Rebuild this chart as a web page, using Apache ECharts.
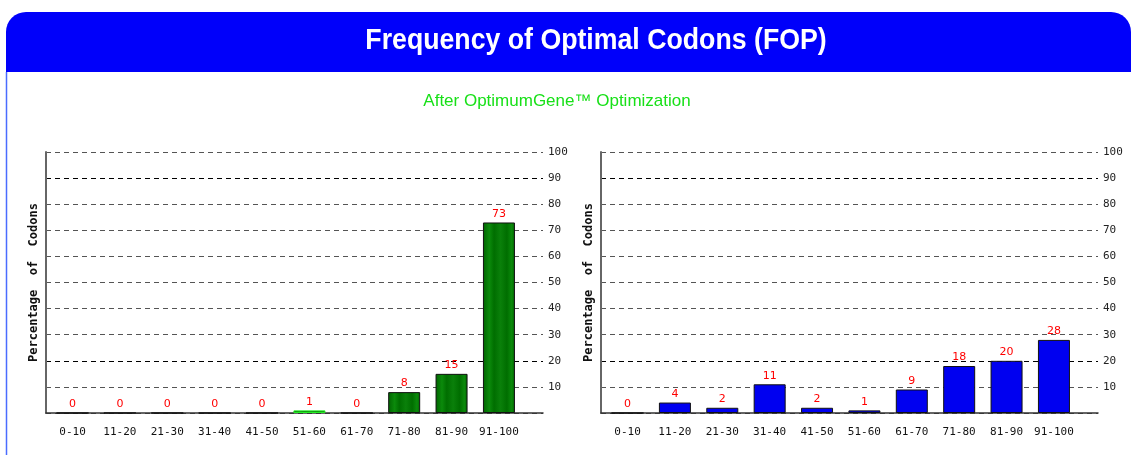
<!DOCTYPE html>
<html>
<head>
<meta charset="utf-8">
<script src="https://cdn.jsdelivr.net/npm/echarts@6/dist/echarts.min.js"></script>
<style>
  html, body { margin: 0; padding: 0; background: #fff; }
  #chart { width: 1131px; height: 455px; }
</style>
</head>
<body>
<div id="chart"></div>
<script>
// codon adaptation bins (x axis)
const categories = ['0-10', '11-20', '21-30', '31-40', '41-50', '51-60', '61-70', '71-80', '81-90', '91-100'];
// percentage of codons, left panel (green) and right panel (blue)
const optimizedPct = [0, 0, 0, 0, 0, 1, 0, 8, 15, 73];
const originalPct = [0, 4, 2, 11, 2, 1, 9, 18, 20, 28];

const MONO = 'DejaVu Sans Mono';
const GRID_LEFTS = [46, 601];

// dashed grid lines, 20 and 90 come out darker in the original
const SPLIT_COLORS = ['#444', '#555', '#000', '#555', '#555', '#555', '#555', '#555', '#555', '#000', '#555'];

const GREEN = {
  type: 'linear', x: 0, y: 0, x2: 1, y2: 0,
  colorStops: [
    { offset: 0, color: '#006400' },
    { offset: 0.2, color: '#0b8a0b' },
    { offset: 0.35, color: '#006e00' },
    { offset: 0.55, color: '#0a800a' },
    { offset: 0.75, color: '#006e00' },
    { offset: 0.9, color: '#0b8a0b' },
    { offset: 1, color: '#006400' }
  ]
};

function xAxisFor(idx) {
  return {
    gridIndex: idx,
    type: 'value',
    min: -0.56,
    max: 9.93,
    axisLine: { show: true, onZero: false, lineStyle: { color: '#333', width: 1.5 } },
    axisTick: { show: false },
    splitLine: { show: false },
    axisLabel: {
      customValues: categories.map((c, i) => i),
      formatter: v => categories[v],
      margin: 14,
      color: '#111',
      fontFamily: MONO,
      fontSize: 11
    }
  };
}

function yAxesFor(idx) {
  return [{
    gridIndex: idx,
    type: 'value',
    position: 'right',
    min: 0,
    max: 100,
    interval: 10,
    axisLine: { show: false },
    axisTick: { show: false },
    axisLabel: {
      formatter: v => (v === 0 ? '' : v),
      margin: 5,
      color: '#222',
      fontFamily: MONO,
      fontSize: 11
    },
    splitLine: { show: true, lineStyle: { type: [5, 4], color: SPLIT_COLORS, width: 1.2 } }
  }, {
    gridIndex: idx,
    type: 'value',
    position: 'left',
    min: 0,
    max: 100,
    interval: 10,
    name: 'Percentage  of  Codons',
    nameLocation: 'middle',
    nameRotate: 90,
    nameGap: 6,
    nameTextStyle: { fontFamily: MONO, fontWeight: 'bold', fontSize: 12, color: '#111' },
    axisLine: { show: true, lineStyle: { color: '#666', width: 2 } },
    axisTick: { show: false },
    axisLabel: { show: false },
    splitLine: { show: false }
  }];
}

function barSeries(idx, values, color, thinBorder) {
  return {
    type: 'bar',
    xAxisIndex: idx,
    yAxisIndex: idx * 2,
    barWidth: 32,
    data: values.map((v, i) => ({
      value: [i, v],
      // the thinnest green bar only shows its outline
      itemStyle: v === 1 && thinBorder ? { borderColor: thinBorder } : undefined
    })),
    itemStyle: { color: color, borderColor: '#111', borderWidth: 1 },
    label: {
      show: true,
      position: 'top',
      distance: 3,
      color: '#ff0000',
      fontFamily: 'DejaVu Sans',
      fontSize: 11,
      formatter: p => p.value[1]
    }
  };
}

const chart = echarts.init(document.getElementById('chart'));

const option = {
  backgroundColor: '#fff',
  animation: false,
  graphic: [
    {
      type: 'rect',
      shape: { x: 6, y: 12, width: 1125, height: 60, r: [20, 20, 0, 0] },
      style: { fill: '#0000fa' }
    },
    {
      type: 'line',
      shape: { x1: 6.5, y1: 72, x2: 6.5, y2: 455 },
      style: { stroke: '#4a6cff', lineWidth: 1.5 }
    },
    {
      type: 'text',
      x: 596,
      y: 41,
      scaleX: 0.89,
      style: {
        text: 'Frequency of Optimal Codons (FOP)',
        fill: '#fff',
        font: 'bold 30px "Liberation Sans"',
        textAlign: 'center',
        textVerticalAlign: 'middle'
      }
    },
    {
      type: 'text',
      x: 557,
      y: 101,
      style: {
        text: 'After OptimumGene™ Optimization',
        fill: '#18e018',
        font: '17px "Liberation Sans"',
        textAlign: 'center',
        textVerticalAlign: 'middle'
      }
    }
  ],
  grid: GRID_LEFTS.map(l => ({ left: l, top: 152, width: 497, height: 261 })),
  xAxis: [xAxisFor(0), xAxisFor(1)],
  yAxis: [...yAxesFor(0), ...yAxesFor(1)],
  series: [
    barSeries(0, optimizedPct, GREEN, '#22ee22'),
    barSeries(1, originalPct, '#0000f0')
  ]
};

chart.setOption(option);
</script>
</body>
</html>
